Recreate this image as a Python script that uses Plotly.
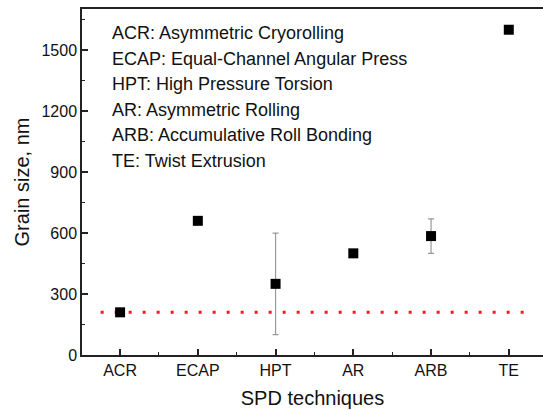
import plotly.graph_objects as go

categories = ["ACR", "ECAP", "HPT", "AR", "ARB", "TE"]
grain_size = [210, 660, 350, 500, 585, 1600]
err_plus = [0, 0, 250, 0, 85, 0]
err_minus = [0, 0, 250, 0, 85, 0]
reference_level = 210
legend_lines = [
    "ACR: Asymmetric Cryorolling",
    "ECAP: Equal-Channel Angular Press",
    "HPT: High Pressure Torsion",
    "AR: Asymmetric Rolling",
    "ARB: Accumulative Roll Bonding",
    "TE: Twist Extrusion",
]
y_ticks = [0, 300, 600, 900, 1200, 1500]

xs = list(range(len(categories)))
FONT = "Liberation Sans, Arial, sans-serif"

fig = go.Figure()
fig.add_trace(go.Scatter(
    x=[xs[0] - 0.25, xs[-1] + 0.25], y=[reference_level, reference_level],
    mode="lines", line=dict(color="#ee1c1c", width=3, dash="3px,11px"),
    hoverinfo="skip", showlegend=False,
))
fig.add_trace(go.Scatter(
    x=xs, y=grain_size, mode="markers",
    marker=dict(symbol="square", size=10, color="black"),
    error_y=dict(type="data", symmetric=False, array=err_plus, arrayminus=err_minus,
                 color="#999999", thickness=1.2, width=3),
    showlegend=False,
))

# plot area pixel geometry: top 9, bottom 355 (height 346)
for i, t in enumerate(legend_lines):
    py = 33.3 + i * 25.5
    fig.add_annotation(
        x=0.06, xref="paper", y=(355 - py) / 346, yref="paper",
        text=t, showarrow=False, xanchor="left", yanchor="middle",
        font=dict(family=FONT, size=18, color="#111111"),
    )

fig.update_layout(
    width=543, height=410,
    margin=dict(l=82, r=0, t=9, b=55, autoexpand=False),
    paper_bgcolor="white", plot_bgcolor="white",
    font=dict(family=FONT, color="#111111"),
)
fig.update_xaxes(
    range=[-0.49, 5.44], tickmode="array", tickvals=xs, ticktext=categories,
    ticks="inside", ticklen=6, tickwidth=1.5, tickcolor="#222",
    minor=dict(tickvals=[x + 0.5 for x in xs], ticks="inside", ticklen=3, tickwidth=1.2, tickcolor="#222"),
    showline=True, linecolor="#222", linewidth=1.5, mirror=True,
    showgrid=False, zeroline=False, automargin=False,
    tickfont=dict(size=16, family=FONT, color="#111"),
    title=dict(text="SPD techniques", font=dict(size=20, family=FONT, color="#111"), standoff=13),
)
fig.update_yaxes(
    range=[0, 1702], tickmode="array", tickvals=y_ticks,
    ticks="inside", ticklen=6, tickwidth=1.5, tickcolor="#222",
    minor=dict(tickvals=[v + 150 for v in y_ticks], ticks="inside", ticklen=3, tickwidth=1.2, tickcolor="#222"),
    showline=True, linecolor="#222", linewidth=1.5,
    showgrid=False, zeroline=False, automargin=False,
    tickfont=dict(size=16, family=FONT, color="#111"),
    title=dict(text="Grain size, nm", font=dict(size=20, family=FONT, color="#111"), standoff=6),
)

fig.write_html(
    "out.html",
    config={"displayModeBar": False},
    post_script=(
        "document.body.style.margin='0';document.body.style.overflow='hidden';"
        "document.documentElement.style.overflow='hidden';"
    ),
)
